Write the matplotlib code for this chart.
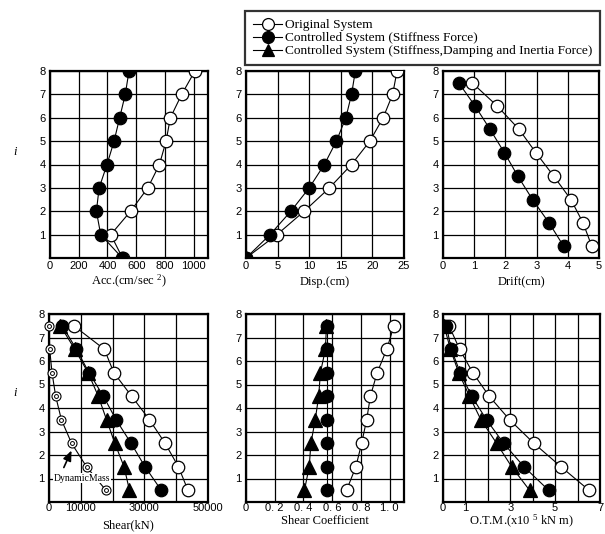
import matplotlib
matplotlib.use('Agg')
import matplotlib.pyplot as plt
from matplotlib.lines import Line2D

plt.rcParams['font.family'] = ['Liberation Sans Narrow', 'Liberation Sans', 'DejaVu Sans']
plt.rcParams['mathtext.fontset'] = 'custom'
plt.rcParams['mathtext.rm'] = 'Liberation Serif'
plt.rcParams['mathtext.it'] = 'Liberation Serif:italic'

SERIF = ['Liberation Serif', 'DejaVu Serif']

# ---------------- data ----------------
floor_levels = [0, 1, 2, 3, 4, 5, 6, 7, 8]
story_levels = [0.5, 1.5, 2.5, 3.5, 4.5, 5.5, 6.5, 7.5]

acc_original = [505, 423, 561, 681, 762, 808, 838, 917, 1009]
acc_stiffness = [503, 353, 323, 342, 397, 446, 485, 524, 550]

disp_original = [0, 4.9, 9.2, 13.2, 16.7, 19.6, 21.7, 23.2, 23.9]
disp_stiffness = [0, 3.8, 7.1, 10.0, 12.4, 14.3, 15.8, 16.7, 17.3]

drift_original = [4.77, 4.49, 4.10, 3.55, 2.98, 2.44, 1.74, 0.93]
drift_stiffness = [3.87, 3.40, 2.87, 2.40, 1.97, 1.51, 1.03, 0.50]

shear_original = [43700, 40700, 36500, 31600, 26000, 20400, 17400, 7800]
shear_stiffness = [35300, 30200, 25800, 21100, 17100, 12600, 8600, 4200]
shear_full = [25300, 23600, 20700, 18100, 15500, 12300, 8100, 3600]
shear_dynamic_mass = [17900, 11800, 7100, 3900, 2100, 950, 210, 0]

coef_original = [0.70, 0.765, 0.805, 0.84, 0.866, 0.913, 0.98, 1.03]
coef_stiffness = [0.565, 0.565, 0.565, 0.565, 0.565, 0.565, 0.565, 0.565]
coef_full = [0.407, 0.44, 0.452, 0.482, 0.506, 0.518, 0.553, 0.56]

otm_original = [6.51, 5.26, 4.05, 2.97, 2.06, 1.33, 0.74, 0.27]
otm_stiffness = [4.71, 3.61, 2.70, 1.94, 1.28, 0.77, 0.37, 0.15]
otm_full = [3.86, 3.06, 2.39, 1.69, 1.18, 0.70, 0.33, 0.05]

legend_labels = ['Original System',
                 'Controlled System (Stiffness Force)',
                 'Controlled System (Stiffness,Damping and Inertia Force)']

# ---------------- styles ----------------
MS = 9
open_style = dict(color='black', lw=0.8, marker='o', ms=MS, mfc='white', mec='black', mew=0.9)
fill_style = dict(color='black', lw=0.8, marker='o', ms=MS, mfc='black', mec='black', mew=0.9)
tri_style = dict(color='black', lw=0.8, marker='^', ms=MS + 0.5, mfc='black', mec='black', mew=0.9)

W, H = 605, 534
fig = plt.figure(figsize=(W / 100, H / 100), dpi=100)


def make_ax(x0, x1, ytop, ybot, xpad=3):
    ax = fig.add_axes([x0 / W, 1 - ybot / H, (x1 - x0) / W, (ybot - ytop) / H])
    ax.set_ylim(0, 8)
    ax.set_yticks(range(0, 9))
    ax.set_yticklabels([''] + [str(i) for i in range(1, 9)])
    ax.grid(True, color='black', lw=0.9)
    ax.set_axisbelow(True)
    ax.tick_params(length=0, labelsize=8, pad=3)
    ax.tick_params(axis='x', pad=xpad)
    for s in ax.spines.values():
        s.set_linewidth(1.6)
    return ax


def xlabel(ax_center_x, y, text):
    fig.text(ax_center_x / W, 1 - y / H, text, ha='center', va='center',
             fontsize=9, family=SERIF)


# ---- Acc ----
ax = make_ax(50, 208, 71, 258, xpad=2)
ax.plot(acc_original, floor_levels, **open_style, zorder=3)
ax.plot(acc_stiffness, floor_levels, **fill_style, zorder=4)
ax.set_xlim(0, 1100)
ax.set_xticks(range(0, 1001, 200))
xlabel(129, 281, r'Acc.(cm/sec $^{2}$)')
fig.text(15 / W, 1 - 152 / H, 'i', fontsize=9, family=SERIF, style='italic',
         ha='center', va='center')

# ---- Disp ----
ax = make_ax(246, 404, 71, 258, xpad=2)
ax.plot(disp_original, floor_levels, **open_style, zorder=3)
ax.plot(disp_stiffness, floor_levels, **fill_style, zorder=4)
ax.set_xlim(0, 25)
ax.set_xticks(range(0, 26, 5))
xlabel(325, 282, 'Disp.(cm)')

# ---- Drift ----
ax = make_ax(443, 599, 71, 258, xpad=2)
ax.plot(drift_original, story_levels, **open_style, zorder=3)
ax.plot(drift_stiffness, story_levels, **fill_style, zorder=4)
ax.set_xlim(0, 5)
ax.set_xticks(range(0, 6))
xlabel(521, 282, 'Drift(cm)')

# ---- Shear ----
ax = make_ax(49, 208, 314, 502, xpad=1)
ax.plot(shear_original, story_levels, **open_style, zorder=3)
ax.plot(shear_stiffness, story_levels, **fill_style, zorder=4)
ax.plot(shear_full, story_levels, **tri_style, zorder=5)
ax.plot(shear_dynamic_mass, story_levels, color='black', lw=0.8, marker='o', ms=6.5,
        mfc='white', mec='black', mew=0.8, zorder=3, clip_on=False)
ax.plot(shear_dynamic_mass, story_levels, ls='none', marker='o', ms=2.8,
        mfc='white', mec='black', mew=0.7, zorder=6, clip_on=False)
ax.set_xlim(0, 50000)
ax.set_xticks(range(0, 50001, 10000))
ax.set_xticklabels(['0', '10000', '', '30000', '', '50000'])
ax.annotate('', xy=(7450, 2.3), xytext=(4300, 1.36),
            arrowprops=dict(arrowstyle='-|>,head_length=0.6,head_width=0.25',
                            color='black', lw=1.2), zorder=7)
ax.text(10400, 1.02, 'DynamicMass', fontsize=7, family=SERIF, ha='center', va='center',
        bbox=dict(facecolor='white', edgecolor='none', pad=0.5), zorder=5)
xlabel(128, 525, 'Shear(kN)')
fig.text(15 / W, 1 - 393 / H, 'i', fontsize=9, family=SERIF, style='italic',
         ha='center', va='center')

# ---- Shear coefficient ----
ax = make_ax(246, 404, 314, 502, xpad=1)
ax.plot(coef_original, story_levels, **open_style, zorder=3)
ax.plot(coef_stiffness, story_levels, **fill_style, zorder=4)
ax.plot(coef_full, story_levels, **tri_style, zorder=5)
ax.set_xlim(0, 1.1)
ax.set_xticks([0, 0.2, 0.4, 0.6, 0.8, 1.0])
ax.set_xticklabels(['0', '0. 2', '0. 4', '0. 6', '0. 8', '1. 0'])
xlabel(325, 521, 'Shear Coefficient')

# ---- OTM ----
ax = make_ax(443, 600, 314, 502, xpad=1)
ax.plot(otm_original, story_levels, **open_style, zorder=3)
ax.plot(otm_stiffness, story_levels, **fill_style, zorder=4)
ax.plot(otm_full, story_levels, **tri_style, zorder=5)
ax.set_xlim(0, 7)
ax.set_xticks(range(0, 8))
ax.set_xticklabels(['0', '1', '', '3', '', '5', '', '7'])
xlabel(521, 521, r'O.T.M.(x10 $^{5}$ kN m)')

# ---- legend ----
handles = [Line2D([], [], **open_style),
           Line2D([], [], **fill_style),
           Line2D([], [], **tri_style)]
leg = fig.legend(handles, legend_labels, loc='upper left',
                 bbox_to_anchor=(245 / W, 1 - 11 / H),
                 prop={'family': SERIF, 'size': 9.6},
                 frameon=True, fancybox=False, edgecolor='black',
                 handlelength=2.2, handletextpad=0.2, labelspacing=0.05,
                 borderpad=0.6, borderaxespad=0, markerscale=0.95)
leg.get_frame().set_linewidth(1.6)

fig.savefig('out.png', dpi=100)
